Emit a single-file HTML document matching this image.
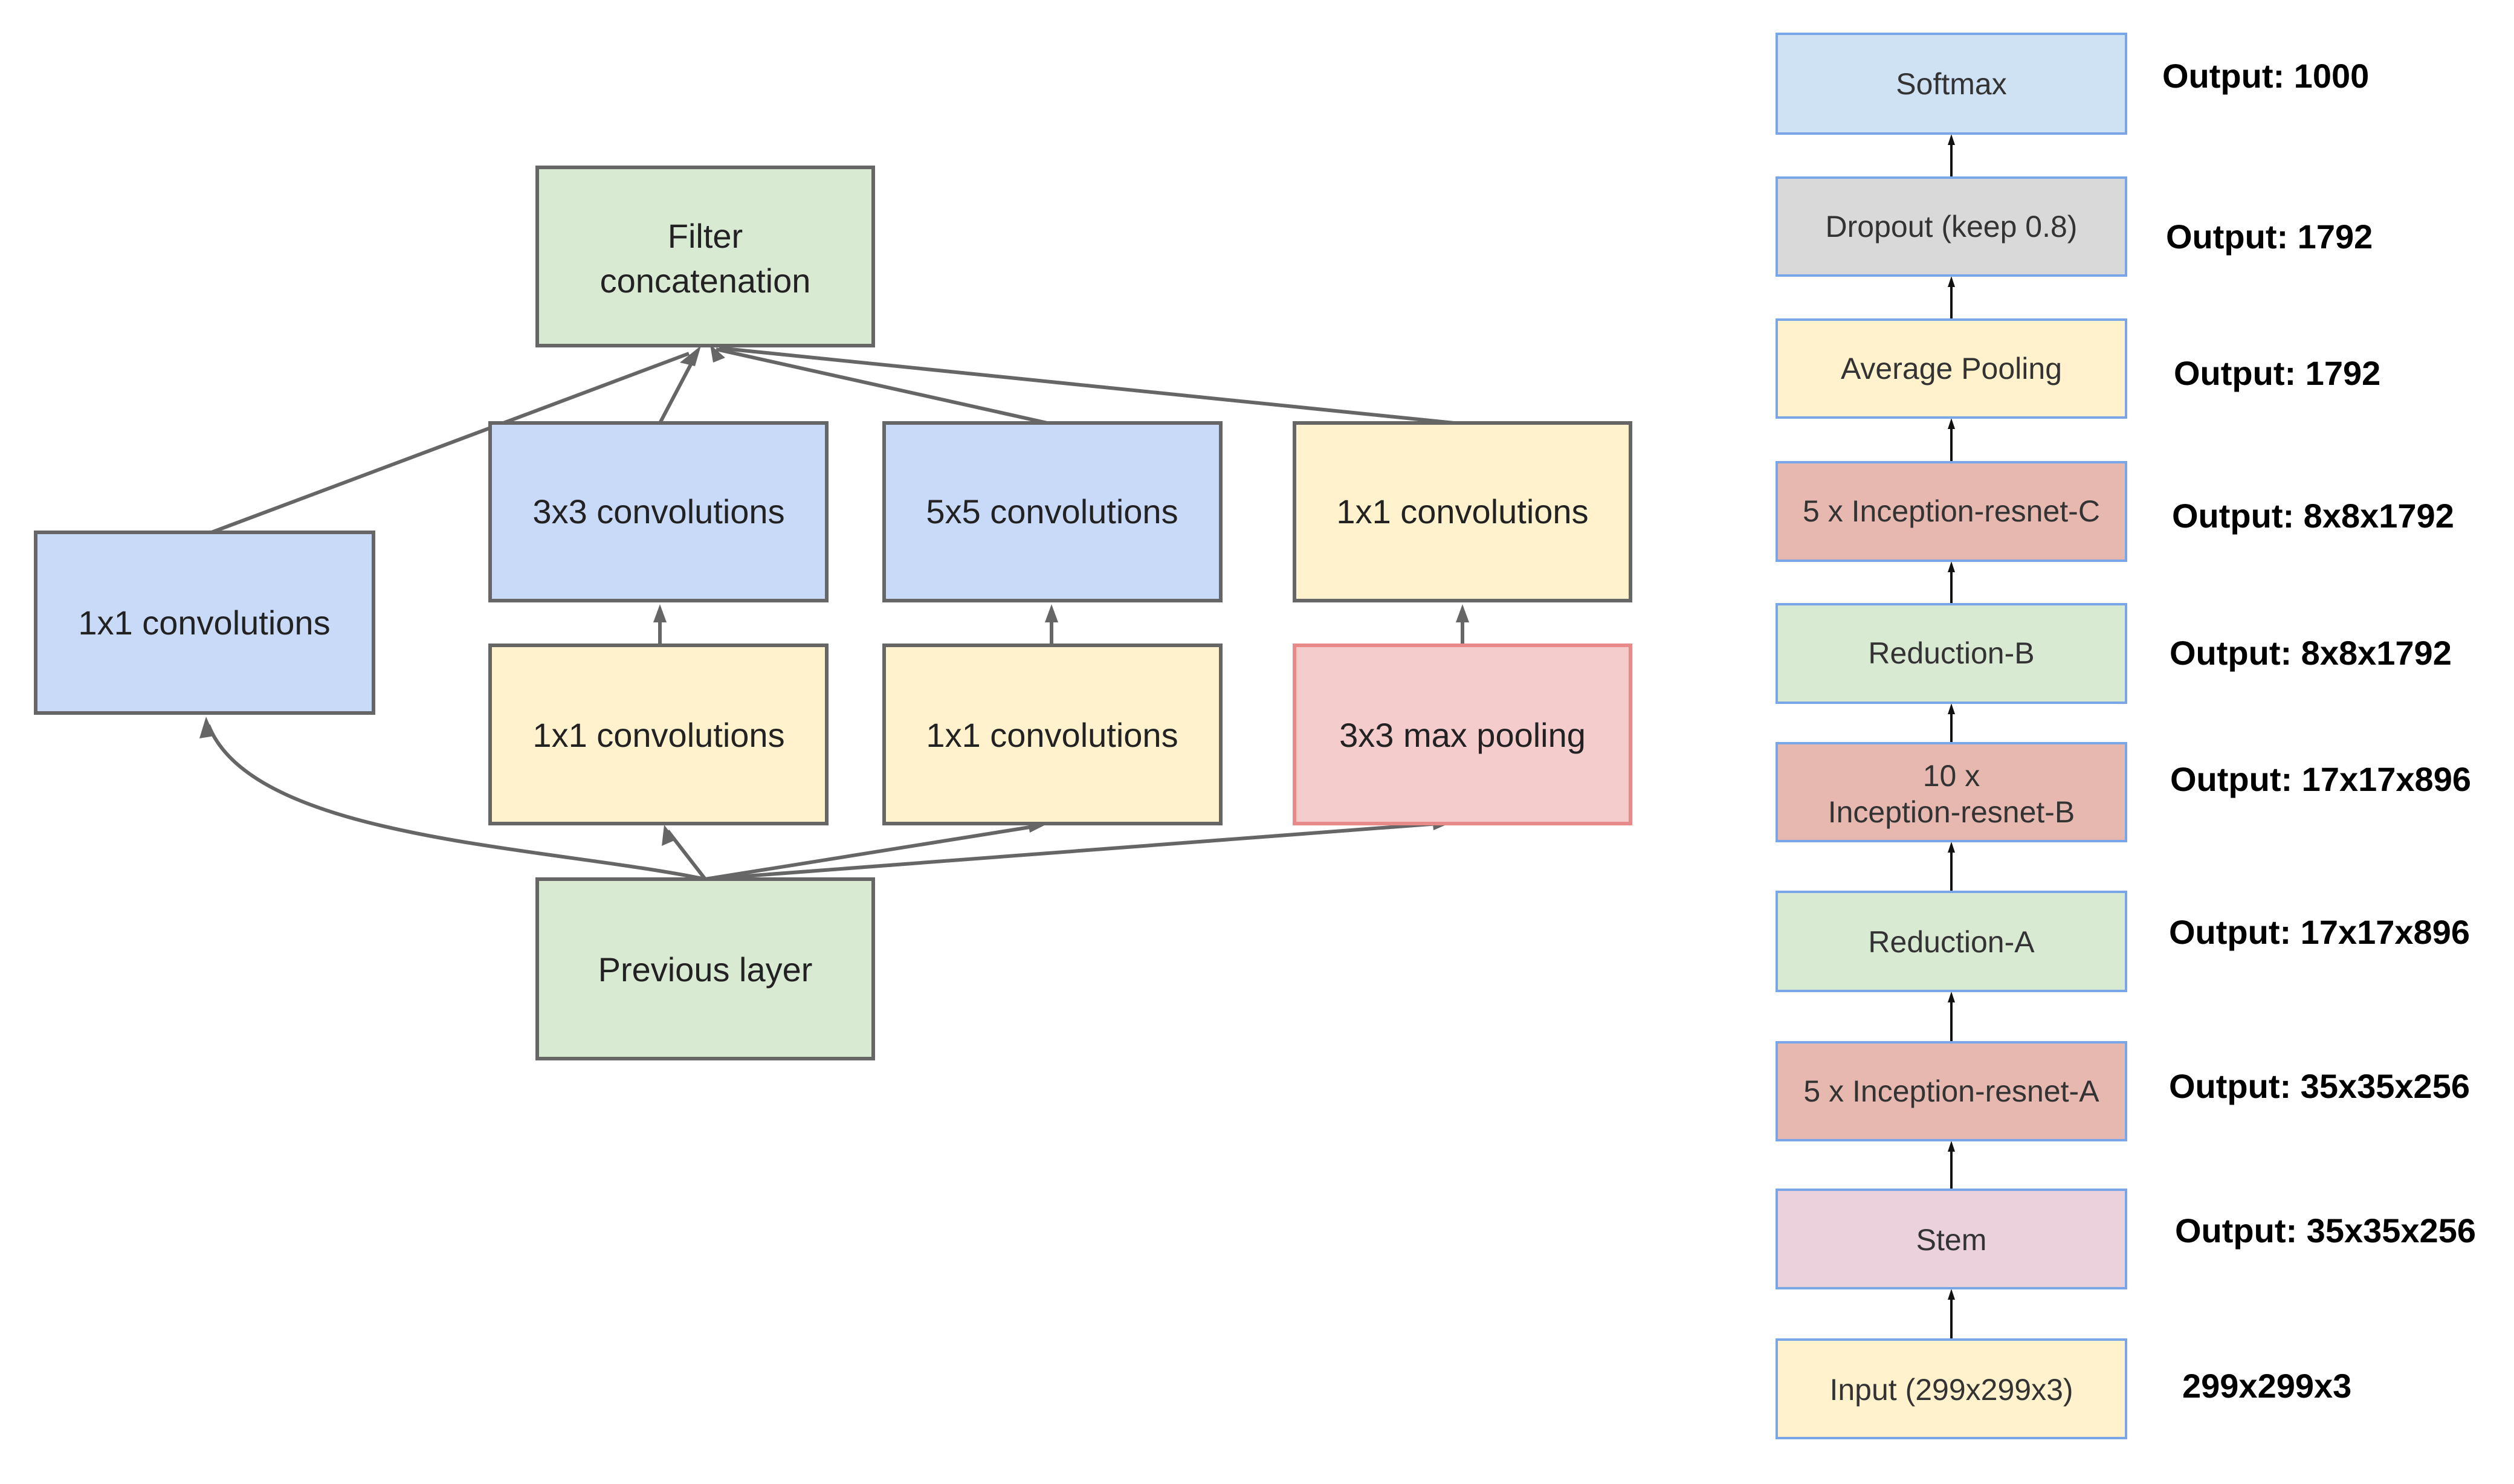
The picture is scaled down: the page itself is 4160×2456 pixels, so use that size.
<!DOCTYPE html>
<html><head><meta charset="utf-8"><style>
html,body{margin:0;padding:0;background:#fff;}
svg{display:block;}
</style></head><body>
<svg width="4160" height="2456" viewBox="0 0 4160 2456" xmlns="http://www.w3.org/2000/svg">
<defs>
<marker id="ga" markerWidth="8" markerHeight="8" refX="7" refY="4" orient="auto" markerUnits="userSpaceOnUse" viewBox="0 0 8 8">
</marker>
</defs>
<g font-family="Liberation Sans, Arial, sans-serif">
<!-- Left diagram connectors -->
<g stroke="#666" stroke-width="6" fill="none">
<line x1="350" y1="881" x2="1140" y2="585"/>
<line x1="1092" y1="700" x2="1150" y2="590"/>
<line x1="1733" y1="700" x2="1185" y2="578"/>
<line x1="2406" y1="700" x2="1190" y2="576"/>
<path d="M1167 1455 C 900 1400, 420 1390, 345 1200"/>
<line x1="1167" y1="1455" x2="1105" y2="1375"/>
<line x1="1167" y1="1455" x2="1710" y2="1368"/>
<line x1="1167" y1="1455" x2="2380" y2="1363"/>
<line x1="1092" y1="1068" x2="1092" y2="1010"/>
<line x1="1740" y1="1068" x2="1740" y2="1010"/>
<line x1="2420" y1="1068" x2="2420" y2="1010"/>
</g>
<g fill="#666">
<polygon points="1160,572 1125,600 1150,606"/>
<polygon points="1175,570 1200,592 1180,600"/>
<polygon points="341,1186 330,1222 355,1218"/>
<polygon points="1099,1365 1095,1400 1118,1390"/>
<polygon points="1730,1365 1700,1356 1704,1378"/>
<polygon points="2400,1362 2370,1352 2372,1374"/>
<polygon points="1092,1000 1081,1030 1103,1030"/>
<polygon points="1740,1000 1729,1030 1751,1030"/>
<polygon points="2420,1000 2409,1030 2431,1030"/>
</g>
<!-- Left diagram boxes -->
<g stroke="#666" stroke-width="6">
<rect x="889" y="277" width="556" height="295" fill="#d9ead3"/>
<rect x="811" y="700" width="557" height="294" fill="#c9daf8"/>
<rect x="1463" y="700" width="557" height="294" fill="#c9daf8"/>
<rect x="2142" y="700" width="556" height="294" fill="#fff2cc"/>
<rect x="59" y="881" width="559" height="299" fill="#c9daf8"/>
<rect x="811" y="1068" width="557" height="295" fill="#fff2cc"/>
<rect x="1463" y="1068" width="557" height="295" fill="#fff2cc"/>
<rect x="889" y="1455" width="556" height="297" fill="#d9ead3"/>
</g>
<rect x="2142" y="1068" width="556" height="295" fill="#f4cccc" stroke="#e88a8a" stroke-width="6"/>
<g font-size="56" fill="#222" text-anchor="middle">
<text x="1167" y="410">Filter</text>
<text x="1167" y="484">concatenation</text>
<text x="1090" y="866">3x3 convolutions</text>
<text x="1741" y="866">5x5 convolutions</text>
<text x="2420" y="866">1x1 convolutions</text>
<text x="338" y="1050">1x1 convolutions</text>
<text x="1090" y="1236">1x1 convolutions</text>
<text x="1741" y="1236">1x1 convolutions</text>
<text x="2420" y="1236">3x3 max pooling</text>
<text x="1167" y="1624">Previous layer</text>
</g>
<!-- Right column connectors -->
<g stroke="#111" stroke-width="4">
<line x1="3229" y1="294" x2="3229" y2="228"/>
<line x1="3229" y1="529" x2="3229" y2="463"/>
<line x1="3229" y1="765" x2="3229" y2="698"/>
<line x1="3229" y1="1000" x2="3229" y2="935"/>
<line x1="3229" y1="1230" x2="3229" y2="1170"/>
<line x1="3229" y1="1476" x2="3229" y2="1399"/>
<line x1="3229" y1="1725" x2="3229" y2="1647"/>
<line x1="3229" y1="1969" x2="3229" y2="1894"/>
<line x1="3229" y1="2217" x2="3229" y2="2139"/>
</g>
<g fill="#111">
<polygon points="3229,222 3223,240 3235,240"/>
<polygon points="3229,457 3223,475 3235,475"/>
<polygon points="3229,692 3223,710 3235,710"/>
<polygon points="3229,929 3223,947 3235,947"/>
<polygon points="3229,1164 3223,1182 3235,1182"/>
<polygon points="3229,1393 3223,1411 3235,1411"/>
<polygon points="3229,1641 3223,1659 3235,1659"/>
<polygon points="3229,1888 3223,1906 3235,1906"/>
<polygon points="3229,2133 3223,2151 3235,2151"/>
</g>
<g stroke="#7aa6e8" stroke-width="4">
<rect x="2940" y="56" width="578" height="165" fill="#cfe2f3"/>
<rect x="2940" y="294" width="578" height="162" fill="#d9d9d9"/>
<rect x="2940" y="529" width="578" height="162" fill="#fff2cc"/>
<rect x="2940" y="765" width="578" height="163" fill="#e6b8af"/>
<rect x="2940" y="1000" width="578" height="163" fill="#d9ead3"/>
<rect x="2940" y="1230" width="578" height="162" fill="#e6b8af"/>
<rect x="2940" y="1476" width="578" height="164" fill="#d9ead3"/>
<rect x="2940" y="1725" width="578" height="162" fill="#e6b8af"/>
<rect x="2940" y="1969" width="578" height="163" fill="#ead1dc"/>
<rect x="2940" y="2217" width="578" height="163" fill="#fff2cc"/>
</g>
<g font-size="50" fill="#333" text-anchor="middle">
<text x="3229" y="156">Softmax</text>
<text x="3229" y="392">Dropout (keep 0.8)</text>
<text x="3229" y="627">Average Pooling</text>
<text x="3229" y="863">5 x Inception-resnet-C</text>
<text x="3229" y="1098">Reduction-B</text>
<text x="3229" y="1301">10 x</text>
<text x="3229" y="1361">Inception-resnet-B</text>
<text x="3229" y="1576">Reduction-A</text>
<text x="3229" y="1823">5 x Inception-resnet-A</text>
<text x="3229" y="2069">Stem</text>
<text x="3229" y="2317">Input (299x299x3)</text>
</g>
<g font-size="56" font-weight="bold" fill="#000">
<text x="3578" y="145">Output: 1000</text>
<text x="3584" y="411">Output: 1792</text>
<text x="3597" y="637">Output: 1792</text>
<text x="3594" y="873">Output: 8x8x1792</text>
<text x="3590" y="1100">Output: 8x8x1792</text>
<text x="3591" y="1309">Output: 17x17x896</text>
<text x="3589" y="1562">Output: 17x17x896</text>
<text x="3589" y="1817">Output: 35x35x256</text>
<text x="3599" y="2056">Output: 35x35x256</text>
<text x="3611" y="2313">299x299x3</text>
</g>
</g>
</svg>
</body></html>
